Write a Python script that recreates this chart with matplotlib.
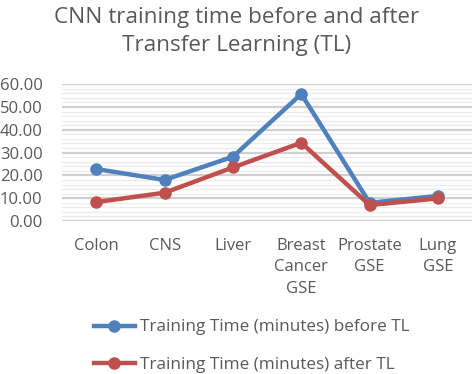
import matplotlib
matplotlib.use("Agg")
import matplotlib.pyplot as plt
import matplotlib.ticker as ticker
import numpy as np

# %%
categories = ["Colon", "CNS", "Liver", "Breast\nCancer\nGSE", "Prostate\nGSE", "Lung\nGSE"]
before_tl = [22.8, 18.0, 28.2, 55.7, 8.0, 11.0]
after_tl = [8.3, 12.4, 23.5, 34.3, 7.0, 9.9]
yticks = [0, 10, 20, 30, 40, 50, 60]

label_before = "Training Time (minutes) before TL"
label_after = "Training Time (minutes) after TL"
title = "CNN training time before and after\nTransfer Learning (TL)"

# %%
plt.rcParams['font.family'] = ['Open Sans', 'DejaVu Sans']
text_gray = "#595959"

fig = plt.figure(figsize=(4.74, 3.74), dpi=100)
ax = fig.add_axes([0.131, 0.409, 0.865, 0.366])

x = np.arange(len(categories))
ax.plot(x, before_tl, color="#4F81BD", lw=3.2, marker="o", ms=8, label=label_before,
        clip_on=False, zorder=3)
ax.plot(x, after_tl, color="#C0504D", lw=3.2, marker="o", ms=8, label=label_after,
        clip_on=False, zorder=3)

ax.set_xlim(-0.5, len(categories) - 0.5)
ax.set_ylim(0, 60)
ax.set_yticks(yticks)
ax.yaxis.set_major_formatter(ticker.FuncFormatter(lambda v, _: f"{v:.2f}"))
ax.yaxis.set_minor_locator(ticker.MultipleLocator(2))
ax.set_xticks(x)
ax.set_xticklabels(categories, linespacing=1.45)

ax.grid(axis="y", which="major", color="#d0d0d0", lw=1.6, zorder=0)
ax.grid(axis="y", which="minor", color="#ececec", lw=0.9, zorder=0)
for s in ax.spines.values():
    s.set_visible(False)
ax.tick_params(axis="both", which="both", length=0, labelsize=12, colors=text_gray)
ax.tick_params(axis="x", pad=12)
ax.tick_params(axis="y", pad=14)

fig.suptitle(title, x=0.5, y=0.982, fontsize=16.2, color=text_gray, linespacing=1.45)

fig.legend(loc="upper left", bbox_to_anchor=(0.183, 0.164), frameon=False,
           fontsize=12.3, labelcolor=text_gray, handlelength=2.4, handletextpad=0.3,
           labelspacing=1.25, borderaxespad=0)

fig.savefig("out.png", dpi=100)
